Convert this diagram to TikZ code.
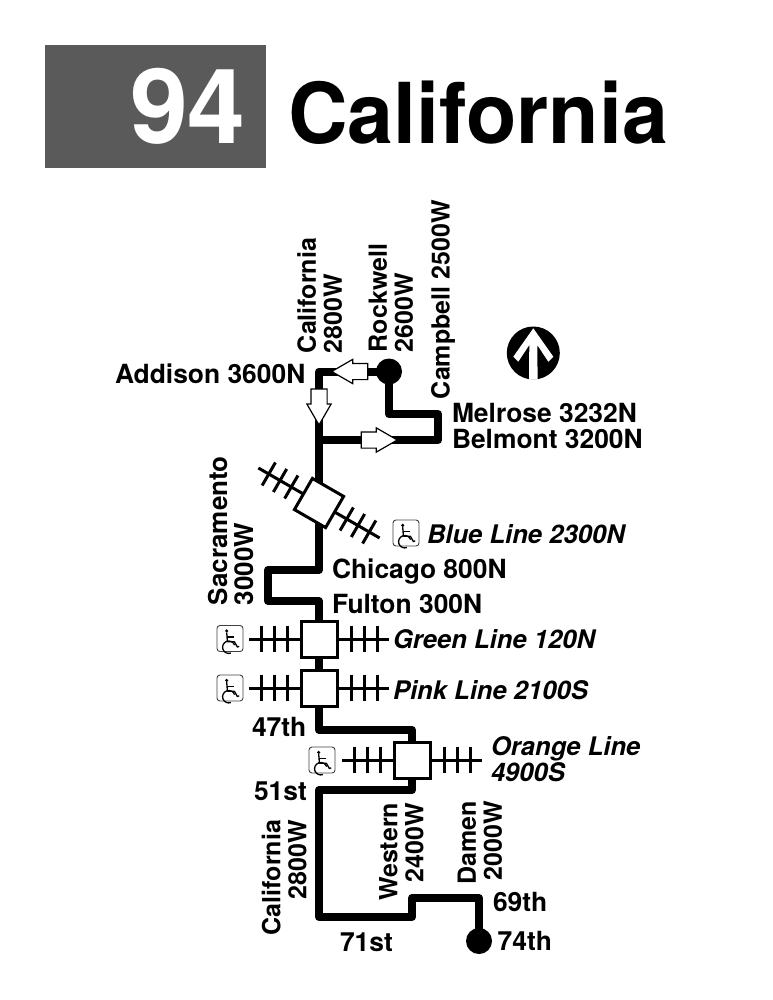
\documentclass[tikz,border=0pt]{standalone}
\usepackage{fontspec}
\setmainfont{TeX Gyre Heros}
\usetikzlibrary{shapes.arrows}
\definecolor{bannergray}{HTML}{5A5A5A}
\tikzset{
  x=1pt,y=-1pt,
  lab/.style={inner sep=0pt,outer sep=0pt,font=\fontsize{26.4}{26}\selectfont\bfseries},
  line/.style={lab,anchor=base west},
  ital/.style={lab,anchor=base west,font=\fontsize{25.6}{26}\selectfont\bfseries\itshape},
  vlab/.style={lab,font=\fontsize{25}{26}\selectfont\bfseries},
  vertl/.style={vlab,rotate=90,anchor=south west,align=left},
  vertr/.style={vlab,rotate=90,anchor=south east,align=right},
  route/.style={line width=8pt,line join=round,line cap=round},
  track/.style={line width=3pt},
  station/.style={draw,fill=white,line width=3pt,minimum size=36pt,inner sep=0pt,outer sep=0pt},
  term/.style={circle,fill=black,minimum size=26pt,inner sep=0pt,outer sep=0pt},
  dirarrow/.style={single arrow,draw,fill=white,line width=1.2pt,anchor=tip,minimum height=36pt,
    single arrow head extend=4pt,single arrow tip angle=60,outer sep=0pt},
  dirh/.style={dirarrow,inner xsep=0pt,inner ysep=7.5pt},
  dirv/.style={dirarrow,inner xsep=7.5pt,inner ysep=0pt},
  pics/wheelchair/.style={code={
    \draw[line width=.9pt,draw=black!75,rounded corners=3pt] (-13,-13) rectangle (13,13);
    \fill (-3.3,-7.6) circle[radius=1.7pt];
    \draw[line width=1.3pt,line join=round] (-3.3,-6) -- (-2.6,3.2) -- (4.4,3.2) -- (7.4,8.6) -- (9.2,7.8);
    \draw[line width=1.3pt] (-3,-1.6) -- (3.8,-1.6);
    \draw[line width=1.3pt] (4.6,6.6) arc[start angle=20,end angle=290,radius=6.2pt];
  }},
  pics/ticks/.style={code={
    \draw[track] (-70,0) -- (-19,0) (19,0) -- (70,0);
    \foreach \d in {-58,-45,-32,32,45,58}{\draw[track] (\d,-13.3) -- (\d,13.3);}
  }},
}
\begin{document}
\begin{tikzpicture}
\useasboundingbox (0,0) rectangle (772,1000);
% banner
\node[fill=bannergray,minimum width=221pt,minimum height=123pt,inner sep=0pt,outer sep=0pt] (banner) at (155.5,106.5) {};
\node[inner sep=0pt,anchor=base east,text=white,font=\fontsize{104}{104}\selectfont\bfseries] (num) at (246,143.5) {94};
\node[inner sep=0pt,anchor=base west,font=\fontsize{84}{84}\selectfont\bfseries] (title) at (288,143.3) {\scalebox{.983}[1]{California}};
% anchor points of the route
\coordinate (a1) at (319,371.5);
\coordinate (a2) at (319,440);
\coordinate (a3) at (389,414);
\coordinate (a4) at (438,414);
\coordinate (a5) at (438,440);
\coordinate (b1) at (319,570);
\coordinate (b2) at (268,570);
\coordinate (b3) at (268,601);
\coordinate (b4) at (319,601);
\coordinate (c1) at (319,730);
\coordinate (c2) at (412,730);
\coordinate (d1) at (412,790);
\coordinate (d2) at (319,790);
\coordinate (d3) at (319,917);
\coordinate (d4) at (412,917);
\coordinate (d5) at (412,898);
\coordinate (d6) at (479,898);
% terminals
\node[term] (north) at (389,371.5) {};
\node[term] (south) at (479,941) {};
% stations positions
\coordinate (blue) at (319,503);
\coordinate (green) at (319,639);
\coordinate (pink) at (319,688);
\coordinate (orange) at (412,760);
% route
\draw[route] (north.center) -- (a1) -- (b1) -- (b2) -- (b3) -- (b4) -- (c1) -- (c2) -- (d1) -- (d2) -- (d3) -- (d4) -- (d5) -- (d6) -- (south.center);
\draw[route] (north.center) -- (a3) -- (a4) -- (a5) -- (a2);
% rail ticks and stations
\pic[rotate=-30] at (blue) {ticks};
\pic at (green) {ticks};
\pic at (pink) {ticks};
\pic at (orange) {ticks};
\node[station,rotate=-30] (sblue) at (blue) {};
\node[station] (sgreen) at (green) {};
\node[station] (spink) at (pink) {};
\node[station] (sorange) at (orange) {};
% direction arrows
\node[dirh,shape border rotate=180] (arrowleft) at (331.7,371.5) {};
\node[dirv,shape border rotate=270] (arrowdown) at (319,425) {};
\node[dirh] (arrowright) at (397.3,440) {};
% north arrow
\node[circle,fill=black,minimum size=53pt,inner sep=0pt] (compass) at (533.3,353) {};
\fill[white] (533.3,328.3) -- (553.3,356.7) -- (548.3,361.7) -- (537.3,345) -- (537.6,379.5) -- (529,379.5) -- (529.3,345) -- (518.3,361.7) -- (513.3,356.7) -- cycle;
% wheelchair
\pic at (406,533) {wheelchair};
\pic at (230,638.5) {wheelchair};
\pic at (230,688) {wheelchair};
\pic at (322,760) {wheelchair};
% labels
\node[line] (addison) at (115,383) {Addison 3600N};
\node[vertl] (california1) at (342,353) {California\\2800W};
\node[vertl] (rockwell) at (413,352) {Rockwell\\2600W};
\node[vlab,rotate=90,anchor=base west] (campbell) at (449.5,399) {Campbell 2500W};
\node[lab,anchor=south west,align=left] (melrose) at (452,449) {Melrose 3232N\\Belmont 3200N};
\node[vertl,font=\fontsize{26}{26}\selectfont\bfseries] (sacramento) at (254,605) {Sacramento\\3000W};
\node[ital] (blueline) at (427,543.7) {Blue Line 2300N};
\node[line] (chicago) at (332,578) {Chicago 800N};
\node[line] (fulton) at (332,613) {Fulton 300N};
\node[ital] (greenline) at (393,648.7) {Green Line 120N};
\node[ital] (pinkline) at (393,699) {Pink Line 2100S};
\node[line] (th47) at (252,736) {47th};
\node[lab,anchor=south west,align=left,font=\fontsize{25.6}{26}\selectfont\bfseries\itshape] (orangeline) at (491,782) {Orange Line\\4900S};
\node[line] (st51) at (254,800) {51st};
\node[vertr] (california2) at (306.7,820) {California\\2800W};
\node[vertr] (western) at (423.7,803) {Western\\2400W};
\node[vertr] (damen) at (502,801) {Damen\\2000W};
\node[line] (th69) at (493,911) {69th};
\node[line] (th74) at (497.7,950) {74th};
\node[line] (st71) at (340,951) {71st};
\end{tikzpicture}
\end{document}
